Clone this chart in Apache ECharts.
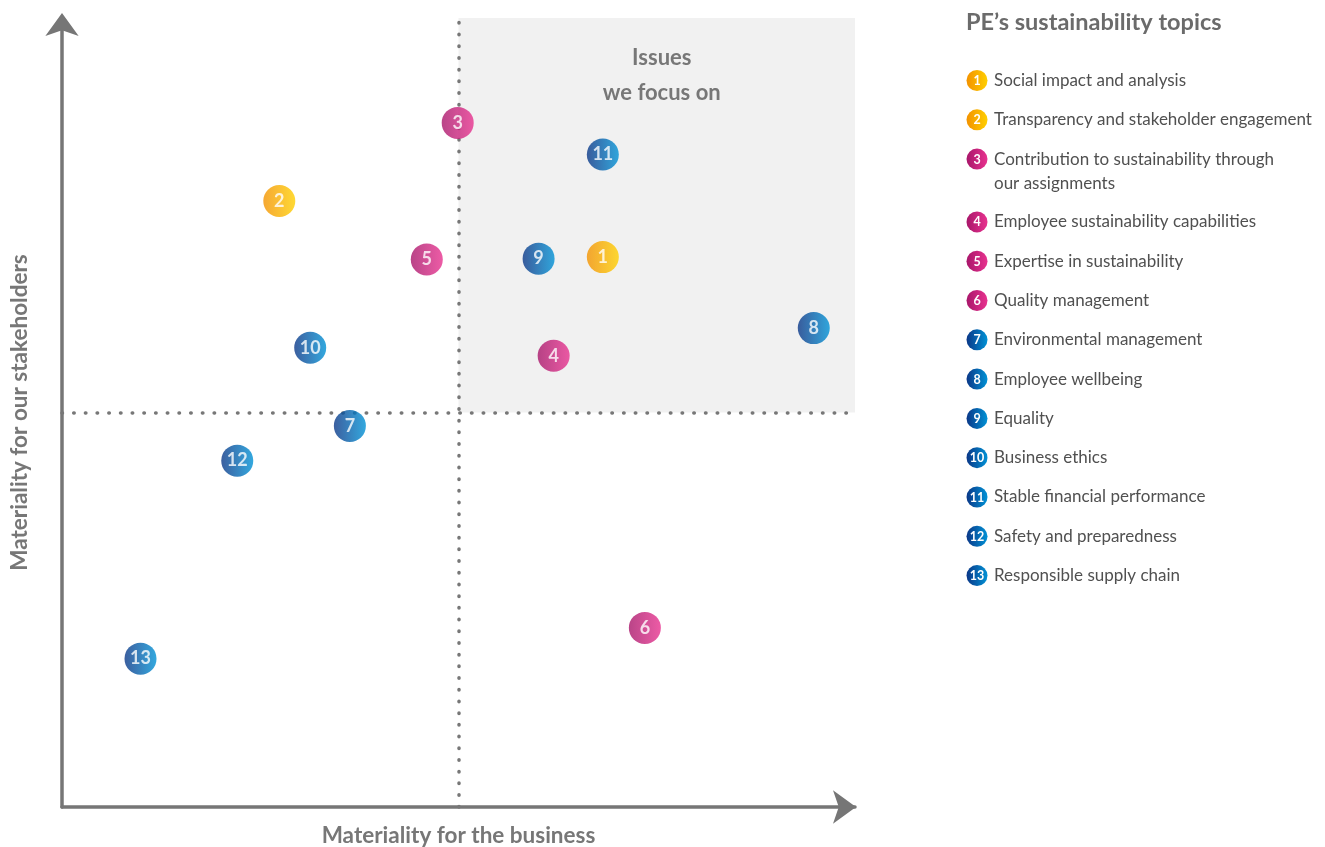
<!DOCTYPE html>
<html>
<head>
<meta charset="utf-8">
<script src="https://cdn.jsdelivr.net/npm/echarts@6/dist/echarts.min.js"></script>
<style>
html,body{margin:0;padding:0;background:#fff;}
#chart{width:1325px;height:847px;}
</style>
</head>
<body>
<div id="chart"></div>
<script>
// ---- data ----
const topicIds = [1,2,3,4,5,6,7,8,9,10,11,12,13];
const topicNames = [
  'Social impact and analysis',
  'Transparency and stakeholder engagement',
  'Contribution to sustainability through\nour assignments',
  'Employee sustainability capabilities',
  'Expertise in sustainability',
  'Quality management',
  'Environmental management',
  'Employee wellbeing',
  'Equality',
  'Business ethics',
  'Stable financial performance',
  'Safety and preparedness',
  'Responsible supply chain'
];
const topicGroups = ['orange','orange','magenta','magenta','magenta','magenta','blue','blue','blue','blue','blue','blue','blue'];
// materiality for the business (x) and for stakeholders (y), 0–10 scale
const businessVals = [6.82, 2.74, 4.99, 6.20, 4.60, 7.35, 3.63, 9.48, 6.01, 3.13, 6.82, 2.21, 0.99];
const stakeholderVals = [6.97, 7.68, 8.67, 5.72, 6.94, 2.27, 4.83, 6.07, 6.95, 5.82, 8.27, 4.39, 1.88];
const threshold = 5;
const axisMax = 10;
const xAxisName = 'Materiality for the business';
const yAxisName = 'Materiality for our stakeholders';
const focusLabel = 'Issues\nwe focus on';
const legendTitle = 'PE\u2019s sustainability topics';

// ---- styles ----
const FONT = 'Lato, "Open Sans", sans-serif';
const gradStops = {
  orange: ['#f39200', '#ffcf00'],
  magenta: ['#a8166a', '#e8328f'],
  blue: ['#0b3787', '#0092d6']
};
function grad(g){
  return new echarts.graphic.LinearGradient(0,0,1,0,[{offset:0,color:gradStops[g][0]},{offset:1,color:gradStops[g][1]}]);
}

const chart = echarts.init(document.getElementById('chart'), null, {renderer:'canvas'});

const pointData = topicIds.map((id,i)=>({
  value:[businessVals[i], stakeholderVals[i], id],
  itemStyle:{color:grad(topicGroups[i])}
}));

// legend built as graphic elements
const legendX = 977, legendY0 = 80.5, legendPitch = 39.3, extraLine = 23.5;
const legendGraphics = [];
legendGraphics.push({
  type:'text', left:966, top:10,
  style:{text:legendTitle, font:'bold 23.5px '+FONT, fill:'#6b6b6b'}
});
let extra = 0;
topicIds.forEach((id,i)=>{
  const cy = legendY0 + i*legendPitch + extra;
  legendGraphics.push({
    type:'circle', shape:{cx:legendX, cy:cy, r:10.5},
    style:{fill:grad(topicGroups[i])}
  });
  legendGraphics.push({
    type:'text', x:legendX, y:cy+0.5,
    style:{text:String(id), font:'bold 12.5px '+FONT, fill:'#fff', align:'center', verticalAlign:'middle'}
  });
  legendGraphics.push({
    type:'text', x:994, y:cy-12,
    style:{text:topicNames[i], font:'17px '+FONT, fill:'#505050', lineHeight:24, verticalAlign:'top'}
  });
  extra += (topicNames[i].split('\n').length-1)*extraLine;
});

const axisLineStyle = {color:'#767676', width:3.5};

chart.setOption({
  animation:false,
  grid:{left:62, right:470, top:18, bottom:40, containLabel:false, outerBoundsMode:'none'},
  xAxis:{
    type:'value', min:0, max:axisMax,
    name:xAxisName, nameLocation:'middle', nameGap:17,
    nameTextStyle:{fontFamily:FONT, fontWeight:'bold', fontSize:22.5, color:'#777'},
    axisLine:{show:true, lineStyle:axisLineStyle, symbol:['none','arrow'], symbolSize:[25,23], symbolOffset:[0,1]},
    axisTick:{show:false}, axisLabel:{show:false}, splitLine:{show:false}
  },
  yAxis:{
    type:'value', min:0, max:axisMax,
    name:yAxisName, nameLocation:'middle', nameGap:31,
    nameTextStyle:{fontFamily:FONT, fontWeight:'bold', fontSize:22.5, color:'#777'},
    axisLine:{show:true, lineStyle:axisLineStyle, symbol:['none','arrow'], symbolSize:[25,23], symbolOffset:[0,5]},
    axisTick:{show:false}, axisLabel:{show:false}, splitLine:{show:false}
  },
  graphic:legendGraphics,
  series:[
    {
      type:'scatter', data:[], z:1, silent:true,
      markArea:{
        silent:true,
        itemStyle:{color:'#f1f1f1'},
        label:{
          show:true, position:'insideTop', distance:22, offset:[5,0],
          formatter:focusLabel,
          fontFamily:FONT, fontWeight:'bold', fontSize:22, color:'#777', lineHeight:35
        },
        data:[[{xAxis:threshold, yAxis:threshold},{xAxis:axisMax, yAxis:axisMax}]]
      },
      markLine:{
        silent:true, symbol:['none','none'], label:{show:false},
        lineStyle:{color:'#777', width:3.5, type:[0.5,11.2], cap:'round'},
        data:[{xAxis:threshold},{yAxis:threshold}]
      }
    },
    {
      type:'scatter', z:5, symbol:'circle', symbolSize:32,
      data:pointData,
      label:{
        show:true, position:'inside',
        formatter:p=>p.value[2],
        fontFamily:FONT, fontWeight:'bold', fontSize:18, color:'#fff'
      }
    }
  ]
});
</script>
</body>
</html>
